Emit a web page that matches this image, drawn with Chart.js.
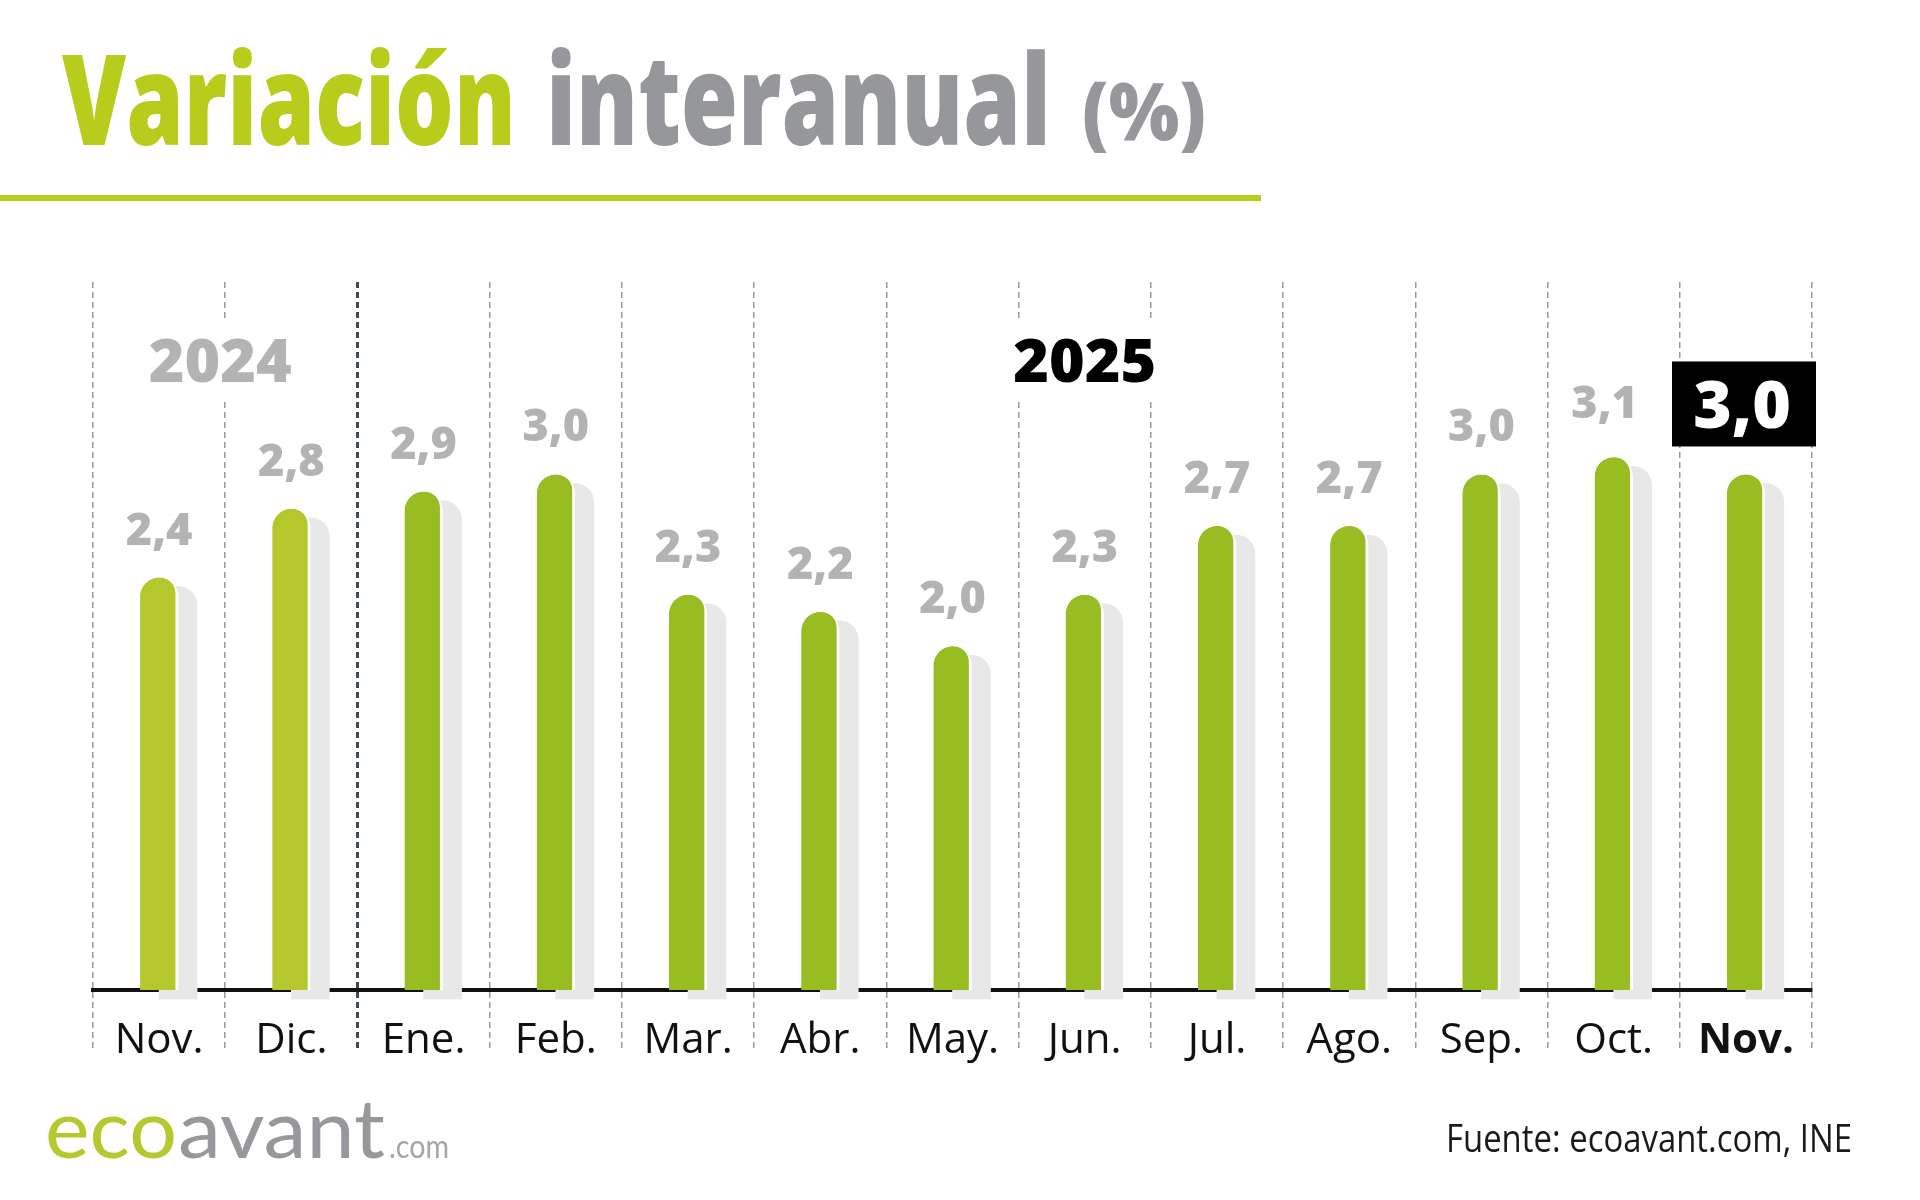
<!DOCTYPE html>
<html lang="es">
<head>
<meta charset="utf-8">
<title>Variación interanual (%)</title>
<script src="https://cdn.jsdelivr.net/npm/chart.js@4.4.1/dist/chart.umd.min.js"></script>
<style>
  html, body { margin: 0; padding: 0; background: #fff; }
  #wrap { width: 1920px; height: 1200px; position: relative; }
</style>
</head>
<body>
<div id="wrap"><canvas id="chart"></canvas></div>
<script>
const months = ['Nov.', 'Dic.', 'Ene.', 'Feb.', 'Mar.', 'Abr.', 'May.', 'Jun.', 'Jul.', 'Ago.', 'Sep.', 'Oct.', 'Nov.'];
const years = ['2024', '2024', '2025', '2025', '2025', '2025', '2025', '2025', '2025', '2025', '2025', '2025', '2025'];
const values = [2.4, 2.8, 2.9, 3.0, 2.3, 2.2, 2.0, 2.3, 2.7, 2.7, 3.0, 3.1, 3.0];

const FONT = '"Open Sans", "Noto Sans", sans-serif';
const GREEN_TITLE = '#b8cc1c';
const GREY_TITLE = '#95979b';
const lastIdx = values.length - 1;

const fmt = v => v.toFixed(1).replace('.', ',');

// draw text squeezed/stretched to a given width
function fitText(ctx, text, x, y, width, font, color) {
  ctx.save();
  ctx.font = font;
  ctx.fillStyle = color;
  ctx.textAlign = 'left';
  ctx.textBaseline = 'alphabetic';
  const w = ctx.measureText(text).width;
  ctx.translate(x, y);
  ctx.scale(width / w, 1);
  ctx.fillText(text, 0, 0);
  ctx.restore();
}

// grey shadow bar sits a bit right and lower than the green one
const shadowShift = {
  id: 'shadowShift',
  beforeDatasetDraw(chart, args) {
    if (args.index === 1) {
      chart.ctx.save();
      chart.ctx.translate(19, 9);
    }
  },
  afterDatasetDraw(chart, args) {
    if (args.index === 1) chart.ctx.restore();
  }
};

const labels = {
  id: 'labels',
  afterDraw(chart) {
    const ctx = chart.ctx;
    const bars = chart.getDatasetMeta(0).data;
    const catW = chart.scales.x.width / values.length;

    // value labels
    ctx.save();
    ctx.font = `800 45px ${FONT}`;
    ctx.fillStyle = '#b3b3b3';
    ctx.textAlign = 'center';
    ctx.textBaseline = 'alphabetic';
    values.forEach((v, i) => {
      if (i === lastIdx) return;
      // the one next to the black box is nudged left/up in the original
      const dx = i === lastIdx - 1 ? -9 : 0;
      const dy = i === lastIdx - 1 ? -6 : 0;
      ctx.fillText(fmt(v), bars[i].x + dx, bars[i].y - 33 + dy);
    });
    ctx.restore();

    // highlighted latest value
    const el = bars[lastIdx];
    const bw = 144, bh = 85;
    const bx = el.x + catW / 2 + 4 - bw, by = el.y - 28 - bh;
    ctx.save();
    ctx.fillStyle = '#000';
    ctx.fillRect(bx, by, bw, bh);
    ctx.font = `800 66px ${FONT}`;
    ctx.fillStyle = '#fff';
    ctx.textAlign = 'center';
    ctx.fillText(fmt(values[lastIdx]), bx + bw / 2 - 2, by + 67);
    ctx.restore();

    // year labels
    const yearMarks = [
      { text: years[0], x: (bars[0].x + bars[1].x) / 2 - 5, color: '#b3b3b3' },
      { text: years[7], x: bars[7].x, color: '#000' }
    ];
    ctx.save();
    ctx.font = `800 61px ${FONT}`;
    ctx.textAlign = 'center';
    yearMarks.forEach(m => {
      const w = ctx.measureText(m.text).width;
      ctx.fillStyle = '#fff';
      ctx.fillRect(m.x - w / 2 - 10, 318, w + 20, 82);
      ctx.fillStyle = m.color;
      ctx.fillText(m.text, m.x, 382);
    });
    ctx.restore();

    // title
    fitText(ctx, 'Variación', 62, 145, 454, `800 126px ${FONT}`, GREEN_TITLE);
    fitText(ctx, 'interanual', 546, 145, 505, `800 126px ${FONT}`, GREY_TITLE);
    fitText(ctx, '(%)', 1082, 140, 124, `800 80px ${FONT}`, GREY_TITLE);
    ctx.save();
    ctx.fillStyle = GREEN_TITLE;
    ctx.fillRect(0, 195, 1261, 6);
    ctx.restore();

    // logo + source
    const logoFont = `400 81px Lato, ${FONT}`;
    fitText(ctx, 'eco', 45, 1158, 132, logoFont, '#b5c92e');
    fitText(ctx, 'avant', 178, 1158, 207, logoFont, '#96989c');
    fitText(ctx, '.com', 389, 1158, 60, `400 32px Lato, ${FONT}`, '#a3a5a8');
    fitText(ctx, 'Fuente: ecoavant.com, INE', 1446, 1152, 406, `400 38px ${FONT}`, '#1a1a1a');
  }
};

const barColors = years.map(y => y === '2024' ? '#b4c82d' : '#97bd22');

new Chart(document.getElementById('chart'), {
  type: 'bar',
  data: {
    labels: months,
    datasets: [
      {
        data: values,
        backgroundColor: barColors,
        borderColor: '#ffffff',
        borderWidth: { top: 0, right: 3, bottom: 0, left: 0 },
        borderRadius: 19,
        borderSkipped: 'bottom',
        barThickness: 38,
        grouped: false,
        order: 1
      },
      {
        data: values,
        backgroundColor: '#e8e8e8',
        borderWidth: 0,
        borderRadius: 19,
        borderSkipped: 'bottom',
        barThickness: 38,
        grouped: false,
        clip: false,
        order: 2
      }
    ]
  },
  options: {
    responsive: true,
    maintainAspectRatio: false,
    animation: false,
    layout: { padding: { left: 93, right: 108, top: 282, bottom: 90 } },
    plugins: {
      legend: { display: false },
      tooltip: { enabled: false }
    },
    scales: {
      x: {
        z: 1,
        offset: true,
        grid: {
          offset: true,
          color: c => c.index === 2 ? '#3f4b52' : '#9a9a9a',
          lineWidth: c => c.index === 2 ? 3 : 1.5,
          drawTicks: true,
          tickLength: 60,
          tickColor: c => c.index === 2 ? '#3f4b52' : '#9a9a9a',
          tickWidth: c => c.index === 2 ? 3 : 1.5,
          tickBorderDash: [6, 4]
        },
        border: { display: true, color: '#111111', width: 4, dash: [6, 4] },
        ticks: {
          padding: -34,
          color: '#111111',
          autoSkip: false,
          maxRotation: 0,
          font: c => ({ family: FONT, size: 42, weight: c.index === lastIdx ? 'bold' : 'normal' })
        },
        afterFit: s => { s.height = 120; }
      },
      y: {
        display: false,
        min: 0,
        max: 4.12
      }
    }
  },
  plugins: [shadowShift, labels]
});
</script>
</body>
</html>
